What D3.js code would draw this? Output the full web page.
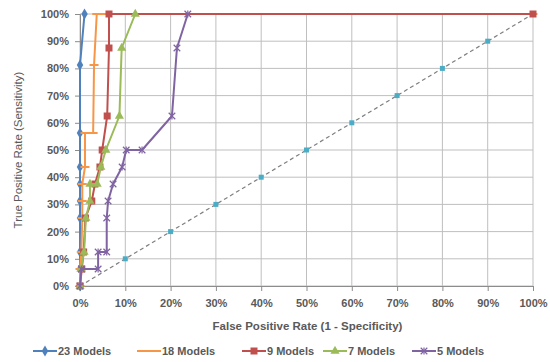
<!doctype html>
<html>
<head>
<meta charset="UTF-8">
<title>ROC curves</title>
<script src="https://d3js.org/d3.v7.min.js"></script>
<style>
  body { margin: 0; background: #fff; }
  text { font-family: "Liberation Sans", Arial, sans-serif; fill: #595959; }
</style>
</head>
<body>
<svg id="chart" width="550" height="362"></svg>
<script>
// false positive rate (%) / true positive rate (%) for each model count
const seriesNames = ["23 Models", "18 Models", "9 Models", "7 Models", "5 Models"];
const seriesColors = ["#4f81bd", "#f79646", "#c0504d", "#9bbb59", "#8064a2"];
const seriesMarkers = ["diamond", "dash", "square", "triangle", "star"];

const fpr23 = [0, 0, 0, 0, 0, 0, 0, 0, 0, 1];
const tpr23 = [0, 6.25, 12.5, 25, 31.25, 37.5, 43.75, 56.25, 81.25, 100];

const fpr18 = [0, 0, 0.3, 0.5, 0.5, 0.5, 1.1, 1.1, 2.9, 3.1, 3.7, 100];
const tpr18 = [0, 6.25, 12.5, 25, 31.25, 37.5, 43.75, 56.25, 56.25, 81.25, 100, 100];

const fpr9 = [0, 0.4, 0.8, 1.2, 2.6, 3.3, 4.4, 4.9, 6.0, 6.4, 6.4, 100];
const tpr9 = [0, 6.25, 12.5, 25, 31.25, 37.5, 43.75, 50, 62.5, 87.5, 100, 100];

const fpr7 = [0, 0.2, 0.9, 1.3, 2.2, 2.2, 3.8, 4.6, 5.7, 8.7, 9.2, 12.2];
const tpr7 = [0, 6.25, 12.5, 25, 31.25, 37.5, 37.5, 43.75, 50, 62.5, 87.5, 100];

const fpr5 = [0, 0.3, 4.0, 4.0, 5.9, 5.9, 6.2, 7.3, 9.3, 10.2, 13.7, 20.3, 21.4, 23.8];
const tpr5 = [0, 6.25, 6.25, 12.5, 12.5, 25, 31.25, 37.5, 43.75, 50, 50, 62.5, 87.5, 100];

const refLine = [0, 10, 20, 30, 40, 50, 60, 70, 80, 90, 100];
const tickValues = [0, 10, 20, 30, 40, 50, 60, 70, 80, 90, 100];

const allFpr = [fpr23, fpr18, fpr9, fpr7, fpr5];
const allTpr = [tpr23, tpr18, tpr9, tpr7, tpr5];

const svg = d3.select("#chart");
const margin = {left: 80, right: 17, top: 14, bottom: 76};
const W = 550, H = 362;

const x = d3.scaleLinear().domain([0, 100]).range([margin.left, W - margin.right]);
const y = d3.scaleLinear().domain([0, 100]).range([H - margin.bottom, margin.top]);
const pct = d => d + "%";

// grid
svg.append("g").selectAll("line.h").data(tickValues).enter().append("line")
  .attr("x1", x(0)).attr("x2", x(100))
  .attr("y1", d => y(d)).attr("y2", d => y(d))
  .attr("stroke", "#bfbfbf").attr("stroke-width", 1);
svg.append("g").selectAll("line.v").data(tickValues).enter().append("line")
  .attr("x1", d => x(d)).attr("x2", d => x(d))
  .attr("y1", y(0)).attr("y2", y(100))
  .attr("stroke", "#bfbfbf").attr("stroke-width", 1);

// axes
const xAxis = svg.append("g").attr("transform", `translate(0,${y(0)})`)
  .call(d3.axisBottom(x).tickValues(tickValues).tickFormat(pct).tickSize(5).tickPadding(8));
const yAxis = svg.append("g").attr("transform", `translate(${x(0)},0)`)
  .call(d3.axisLeft(y).tickValues(tickValues).tickFormat(pct).tickSize(5).tickPadding(6));
[xAxis, yAxis].forEach(a => {
  a.select(".domain").attr("stroke", "#8c8c8c");
  a.selectAll(".tick line").attr("stroke", "#8c8c8c");
  a.selectAll(".tick text").style("font-size", "11px").style("font-weight", "bold")
    .style("fill", "#595959").style("font-family", "Liberation Sans, Arial, sans-serif");
});

// axis titles
svg.append("text").attr("x", (x(0) + x(100)) / 2 + 1).attr("y", 330)
  .attr("text-anchor", "middle").style("font-size", "11.5px").style("font-weight", "bold")
  .text("False Positive Rate (1 - Specificity)");
svg.append("text").attr("transform", `translate(22,${(y(0) + y(100)) / 2}) rotate(-90)`)
  .attr("text-anchor", "middle").style("font-size", "11.5px")
  .text("True Positive Rate (Sensitivity)");

const line = d3.line().x(d => x(d[0])).y(d => y(d[1]));

function drawMarker(g, kind, color, cx, cy) {
  if (kind === "diamond") {
    g.append("path").attr("d", d3.symbol(d3.symbolDiamond, 36)())
      .attr("transform", `translate(${cx},${cy})`).attr("fill", color);
  } else if (kind === "dash") {
    g.append("line").attr("x1", cx - 4.5).attr("x2", cx + 4.5).attr("y1", cy).attr("y2", cy)
      .attr("stroke", color).attr("stroke-width", 2);
  } else if (kind === "square") {
    g.append("rect").attr("x", cx - 3.5).attr("y", cy - 3.5).attr("width", 7).attr("height", 7)
      .attr("fill", color);
  } else if (kind === "triangle") {
    g.append("path").attr("d", d3.symbol(d3.symbolTriangle, 36)())
      .attr("transform", `translate(${cx},${cy})`).attr("fill", color);
  } else if (kind === "star") {
    g.append("path").attr("d", d3.symbol(d3.symbolX, 30)())
      .attr("transform", `translate(${cx},${cy})`).attr("fill", "none")
      .attr("stroke", color).attr("stroke-width", 1.2);
    g.append("line").attr("x1", cx).attr("x2", cx).attr("y1", cy - 3.5).attr("y2", cy + 3.5)
      .attr("stroke", color).attr("stroke-width", 1.2);
  } else if (kind === "ref") {
    g.append("rect").attr("x", cx - 2.5).attr("y", cy - 2.5).attr("width", 5).attr("height", 5)
      .attr("fill", color);
  }
}

// chance diagonal
const refG = svg.append("g");
refG.append("path").datum(refLine.map(v => [v, v])).attr("d", line)
  .attr("fill", "none").attr("stroke", "#7f7f7f").attr("stroke-width", 1.2)
  .attr("stroke-dasharray", "4,3");
refLine.forEach(v => drawMarker(refG, "ref", "#4bacc6", x(v), y(v)));

// ROC series
seriesNames.forEach((name, i) => {
  const pts = allFpr[i].map((f, j) => [f, allTpr[i][j]]);
  const g = svg.append("g");
  g.append("path").datum(pts).attr("d", line)
    .attr("fill", "none").attr("stroke", seriesColors[i]).attr("stroke-width", 2)
    .attr("stroke-linejoin", "round");
  pts.forEach(p => drawMarker(g, seriesMarkers[i], seriesColors[i], x(p[0]), y(p[1])));
});

// legend
const legendX = [33, 137, 242, 323, 412];
const legend = svg.append("g");
seriesNames.forEach((name, i) => {
  const lx = legendX[i], ly = 351;
  legend.append("line").attr("x1", lx).attr("x2", lx + 24).attr("y1", ly).attr("y2", ly)
    .attr("stroke", seriesColors[i]).attr("stroke-width", 2);
  drawMarker(legend, seriesMarkers[i], seriesColors[i], lx + 12, ly);
  legend.append("text").attr("x", lx + 25).attr("y", ly + 4)
    .style("font-size", "11px").style("font-weight", "bold").text(name);
});
</script>
</body>
</html>
